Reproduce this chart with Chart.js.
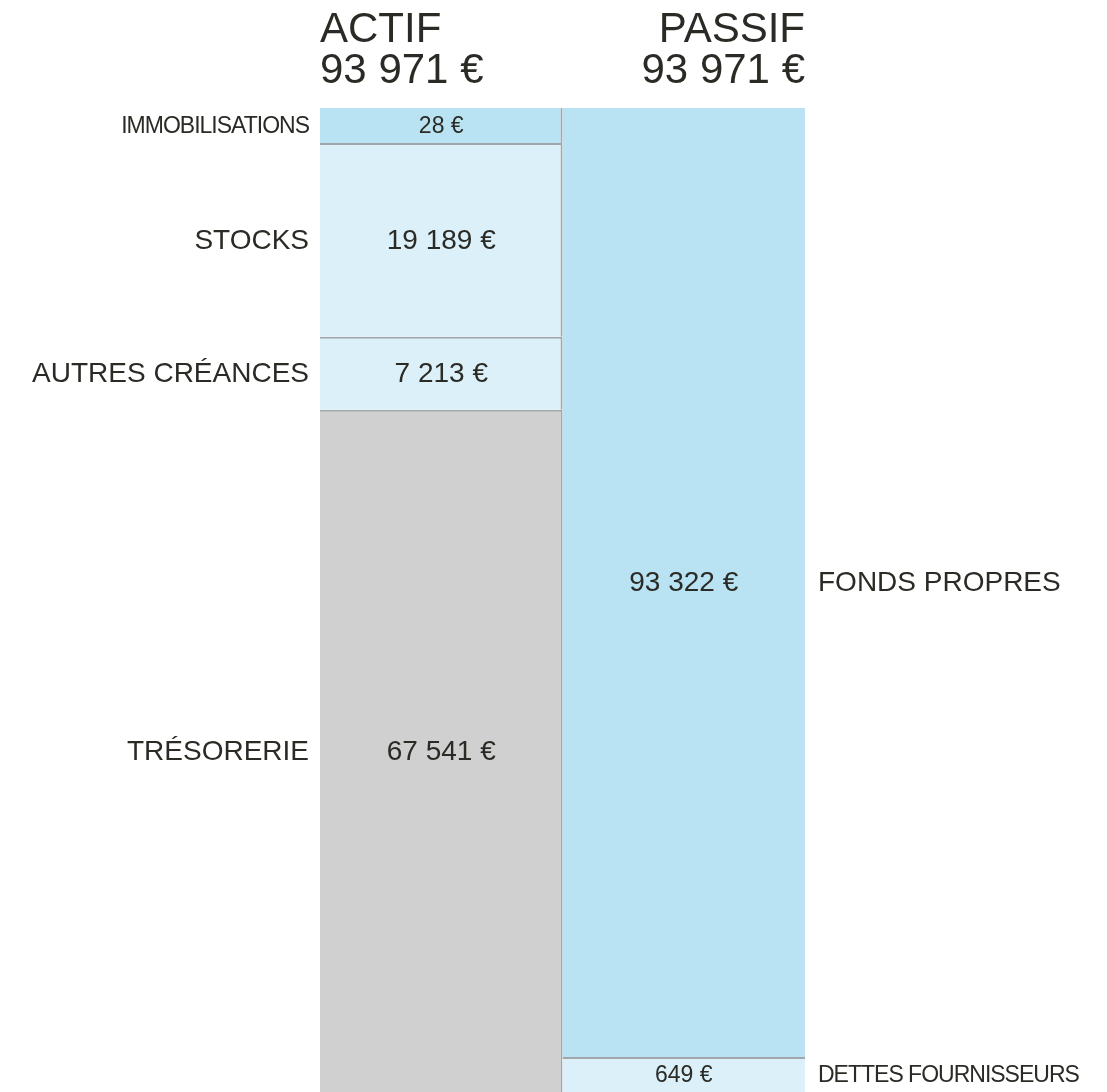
<!DOCTYPE html>
<html>
<head>
<meta charset="utf-8">
<script src="https://cdn.jsdelivr.net/npm/chart.js@4/dist/chart.umd.min.js"></script>
<style>
    body { margin: 0; background: #fff; }
    #wrap { width: 1107px; height: 1092px; position: relative; }
</style>
</head>
<body>
<div id="wrap"><canvas id="bilan"></canvas></div>
<script>
const columns = ['ACTIF', 'PASSIF'];
const actifLabels = ['IMMOBILISATIONS', 'STOCKS', 'AUTRES CRÉANCES', 'TRÉSORERIE'];
const actifValues = [28, 19189, 7213, 67541];
const passifLabels = ['FONDS PROPRES', 'DETTES FOURNISSEURS'];
const passifValues = [93322, 649];
const actifColors = ['#b9e2f2', '#dbf0f9', '#dbf0f9', '#d0d0d0'];
const passifColors = ['#b9e2f2', '#dbf0f9'];

const FONT = "'Liberation Sans', Arial, sans-serif";
const TEXT = '#2b2b26';
const LINE = '#a0a6ac';
const MIN_SHARE = 35 / 984; // small items keep a readable height

function euro(v) {
    return String(v).replace(/\B(?=(\d{3})+(?!\d))/g, ' ') + ' €';
}

function sum(arr) {
    return arr.reduce((a, b) => a + b, 0);
}

// heights used for drawing: tiny items get a minimum share, the rest is rescaled
function displayValues(values) {
    const total = sum(values);
    const min = total * MIN_SHARE;
    const small = values.filter(v => v < min);
    const k = (total - small.length * min) / (total - sum(small));
    return values.map(v => (v < min ? min : v * k));
}

const actifShown = displayValues(actifValues);
const passifShown = displayValues(passifValues);

const datasets = [];
// Chart.js stacks the first dataset at the bottom, so push in reverse
for (let i = actifValues.length - 1; i >= 0; i--) {
    datasets.push({
        label: actifLabels[i],
        data: [actifShown[i], null],
        raw: actifValues[i],
        side: 0,
        backgroundColor: actifColors[i],
        borderColor: LINE,
        borderWidth: { top: i === 0 ? 0 : 2, right: 2, bottom: 0, left: 0 },
        borderSkipped: false
    });
}
for (let i = passifValues.length - 1; i >= 0; i--) {
    datasets.push({
        label: passifLabels[i],
        data: [null, passifShown[i]],
        raw: passifValues[i],
        side: 1,
        backgroundColor: passifColors[i],
        borderColor: LINE,
        borderWidth: { top: i === 0 ? 0 : 2, right: 0, bottom: 0, left: 0 },
        borderSkipped: false
    });
}

const labelsPlugin = {
    id: 'bilanLabels',
    afterDatasetsDraw(chart) {
        const ctx = chart.ctx;
        const x = chart.scales.x;
        ctx.save();
        ctx.fillStyle = TEXT;
        ctx.textBaseline = 'middle';

        chart.data.datasets.forEach((ds, i) => {
            const bar = chart.getDatasetMeta(i).data[ds.side];
            if (!bar) return;
            const cy = (bar.y + bar.base) / 2 + 1;
            const small = Math.abs(bar.base - bar.y) < 40;
            ctx.font = (small ? '23px ' : '28px ') + FONT;

            ctx.letterSpacing = '0px';
            ctx.textAlign = 'center';
            ctx.fillText(euro(ds.raw), bar.x, cy);

            ctx.letterSpacing = small ? '-1px' : '0px';
            if (ds.side === 0) {
                ctx.textAlign = 'right';
                ctx.fillText(ds.label, bar.x - bar.width / 2 - 11, cy);
            } else {
                ctx.textAlign = 'left';
                ctx.fillText(ds.label, bar.x + bar.width / 2 + 13, cy);
            }
        });

        // column headers
        const step = x.getPixelForValue(1) - x.getPixelForValue(0);
        const totals = [sum(actifValues), sum(passifValues)];
        ctx.font = '42px ' + FONT;
        ctx.letterSpacing = '0px';
        ctx.textBaseline = 'alphabetic';
        columns.forEach((name, i) => {
            let px;
            if (i === 0) {
                ctx.textAlign = 'left';
                px = x.getPixelForValue(i) - step / 2;
            } else {
                ctx.textAlign = 'right';
                px = x.getPixelForValue(i) + step / 2;
            }
            ctx.fillText(name, px, 42);
            ctx.fillText(euro(totals[i]), px, 83);
        });
        ctx.restore();
    }
};

new Chart(document.getElementById('bilan'), {
    type: 'bar',
    data: { labels: columns, datasets: datasets },
    options: {
        responsive: true,
        maintainAspectRatio: false,
        animation: false,
        layout: { padding: { left: 320, right: 302, top: 108, bottom: 0 } },
        datasets: { bar: { barPercentage: 1, categoryPercentage: 1, inflateAmount: 0 } },
        scales: {
            x: { stacked: true, display: false },
            y: { stacked: true, display: false, min: 0, max: sum(actifValues) }
        },
        plugins: {
            legend: { display: false },
            tooltip: { enabled: false }
        }
    },
    plugins: [labelsPlugin]
});
</script>
</body>
</html>
